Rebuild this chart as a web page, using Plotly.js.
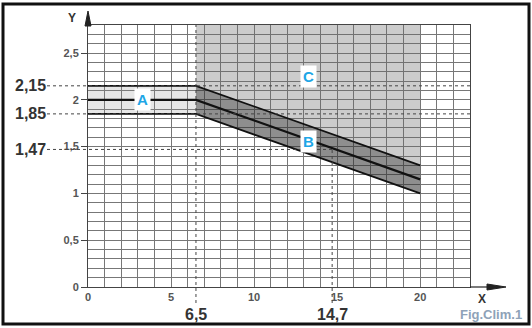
<!DOCTYPE html>
<html>
<head>
<meta charset="utf-8">
<script src="https://cdn.plot.ly/plotly-3.0.1.min.js"></script>
<style>html,body{margin:0;padding:0;background:#fff;}#chart{width:532px;height:328px;}</style>
</head>
<body>
<div id="chart"></div>
<script>
// ---- data ----
var xBreaks = [0, 6.5, 20];          // start, knee, end of the curves
var upperY  = [2.15, 2.15, 1.30];    // upper tolerance
var nominalY = [2.00, 2.00, 1.15];   // nominal curve
var lowerY  = [1.85, 1.85, 1.00];    // lower tolerance
var zoneCTop = 2.8;                  // top of zone C
var refX = [6.5, 14.7];              // marked X values
var refY = [2.15, 1.85, 1.47];       // marked Y values
var zoneLabels = ['A', 'B', 'C'];
var zoneLabelX = [3.3, 13.3, 13.3];
var zoneLabelY = [2.0, 1.55, 2.25];
var xTickVals = [0, 5, 10, 15, 20];
var yTickVals = [0, 0.5, 1, 1.5, 2, 2.5];
var xRange = [0, 23];
var yRange = [0, 2.8];

// ---- layout geometry ----
var L = 88, R = 62, T = 25, B = 41, W = 532 - L - R, H = 328 - T - B;
function fx(px) { return (px - L) / W; }
function fy(py) { return 1 - (py - T) / H; }
function comma(v) { return String(v).replace('.', ','); }

var FONT = 'Liberation Sans, Arial, sans-serif';
var traces = [];

// Zone C (light grey above the band)
traces.push({
  x: [xBreaks[1], xBreaks[2], xBreaks[2], xBreaks[1]],
  y: [upperY[1], upperY[2], zoneCTop, zoneCTop],
  mode: 'none', fill: 'toself', fillcolor: 'rgba(105,105,105,0.34)', hoverinfo: 'skip'
});
// Zone A band
traces.push({
  x: [xBreaks[0], xBreaks[1], xBreaks[1], xBreaks[0]],
  y: [lowerY[0], lowerY[1], upperY[1], upperY[0]],
  mode: 'none', fill: 'toself', fillcolor: 'rgba(140,140,140,0.22)', hoverinfo: 'skip'
});
// Zone B band
traces.push({
  x: [xBreaks[1], xBreaks[2], xBreaks[2], xBreaks[1]],
  y: [lowerY[1], lowerY[2], upperY[2], upperY[1]],
  mode: 'none', fill: 'toself', fillcolor: 'rgba(50,50,50,0.55)', hoverinfo: 'skip'
});
// curves
[upperY, nominalY, lowerY].forEach(function (ys, i) {
  traces.push({
    x: xBreaks, y: ys, mode: 'lines',
    line: {color: '#111', width: i === 1 ? 2.2 : 1.8},
    hoverinfo: 'skip'
  });
});

var shapes = [];
// horizontal dashed reference lines
refY.forEach(function (v, i) {
  var xEnd = (i === 2) ? refX[1] : xRange[1];
  shapes.push({
    type: 'line', xref: 'paper', yref: 'y',
    x0: fx(47), x1: (xEnd - xRange[0]) / (xRange[1] - xRange[0]),
    y0: v, y1: v,
    line: {color: '#444', width: 1, dash: '3px,3px'}
  });
});
// vertical dashed reference lines
refX.forEach(function (v, i) {
  var top = (i === 0) ? 1 : (refY[2] - yRange[0]) / (yRange[1] - yRange[0]);
  shapes.push({
    type: 'line', xref: 'x', yref: 'paper',
    x0: v, x1: v, y0: fy(303), y1: top,
    line: {color: '#444', width: 1, dash: '3px,3px'}
  });
});
// axis arrows
shapes.push({type: 'line', xref: 'paper', yref: 'paper', x0: 1, x1: fx(495), y0: 0, y1: 0, line: {color: '#222', width: 1.2}});
shapes.push({type: 'path', xref: 'paper', yref: 'paper',
  path: 'M' + fx(506) + ',' + fy(287) + ' L' + fx(487) + ',' + fy(284) + ' L' + fx(487) + ',' + fy(290) + ' Z',
  fillcolor: '#222', line: {color: '#222', width: 1}});
shapes.push({type: 'line', xref: 'paper', yref: 'paper', x0: 0, x1: 0, y0: 1, y1: fy(20), line: {color: '#222', width: 1.2}});
shapes.push({type: 'path', xref: 'paper', yref: 'paper',
  path: 'M' + fx(88) + ',' + fy(11) + ' L' + fx(85) + ',' + fy(26) + ' L' + fx(91) + ',' + fy(26) + ' Z',
  fillcolor: '#222', line: {color: '#222', width: 1}});
// outer frame
shapes.push({type: 'rect', xref: 'paper', yref: 'paper',
  x0: fx(3), x1: fx(529), y0: fy(324), y1: fy(4),
  line: {color: '#111', width: 3}});

var annotations = [];
refY.forEach(function (v) {
  annotations.push({xref: 'paper', yref: 'y', x: fx(30), y: v, text: comma(v), showarrow: false,
    xanchor: 'center', yanchor: 'middle', font: {family: FONT, size: 16, color: '#333', weight: 'bold'}});
});
refX.forEach(function (v) {
  annotations.push({xref: 'x', yref: 'paper', x: v, y: fy(314), text: comma(v), showarrow: false,
    xanchor: 'center', yanchor: 'middle', font: {family: FONT, size: 16, color: '#333', weight: 'bold'}});
});
zoneLabels.forEach(function (t, i) {
  annotations.push({xref: 'x', yref: 'y', x: zoneLabelX[i], y: zoneLabelY[i], text: t, showarrow: false,
    bgcolor: '#fff', borderpad: 2,
    font: {family: FONT, size: 15, color: '#1ea6e6', weight: 'bold'}});
});
annotations.push({xref: 'paper', yref: 'paper', x: fx(482), y: fy(299), text: 'X', showarrow: false,
  xanchor: 'center', yanchor: 'middle',
  font: {family: FONT, size: 12, color: '#333', weight: 'bold'}});
annotations.push({xref: 'paper', yref: 'paper', x: fx(72), y: fy(18), text: 'Y', showarrow: false,
  xanchor: 'center', yanchor: 'middle',
  font: {family: FONT, size: 12, color: '#333', weight: 'bold'}});
annotations.push({xref: 'paper', yref: 'paper', x: fx(524), y: fy(314), xanchor: 'right', yanchor: 'middle',
  text: 'Fig.Clim.1', showarrow: false,
  font: {family: FONT, size: 13, color: '#8ea2b8', weight: 'bold'}});

var layout = {
  width: 532, height: 328,
  margin: {l: L, r: R, t: T, b: B, pad: 0},
  paper_bgcolor: '#fff', plot_bgcolor: '#fff',
  showlegend: false,
  hovermode: false,
  separators: ', ',
  font: {family: FONT},
  xaxis: {
    range: xRange, tickvals: xTickVals, ticktext: xTickVals.map(comma),
    showgrid: true, gridcolor: '#777', gridwidth: 1,
    minor: {dtick: 1, tick0: 0, showgrid: true, gridcolor: '#777', gridwidth: 1},
    showline: true, linecolor: '#444', linewidth: 1, mirror: true,
    ticks: '', ticklabelstandoff: 0, zeroline: false,
    tickfont: {family: FONT, size: 11, color: '#555', weight: 'bold'}
  },
  yaxis: {
    range: yRange, tickvals: yTickVals, ticktext: yTickVals.map(comma),
    showgrid: true, gridcolor: '#777', gridwidth: 1,
    minor: {dtick: 0.1, tick0: 0, showgrid: true, gridcolor: '#777', gridwidth: 1},
    showline: true, linecolor: '#444', linewidth: 1, mirror: true,
    ticks: 'outside', ticklen: 6, tickcolor: '#444', tickwidth: 1, zeroline: false,
    tickfont: {family: FONT, size: 11, color: '#555', weight: 'bold'}
  },
  shapes: shapes,
  annotations: annotations
};

Plotly.newPlot('chart', traces, layout, {staticPlot: true, displayModeBar: false});
</script>
</body>
</html>
